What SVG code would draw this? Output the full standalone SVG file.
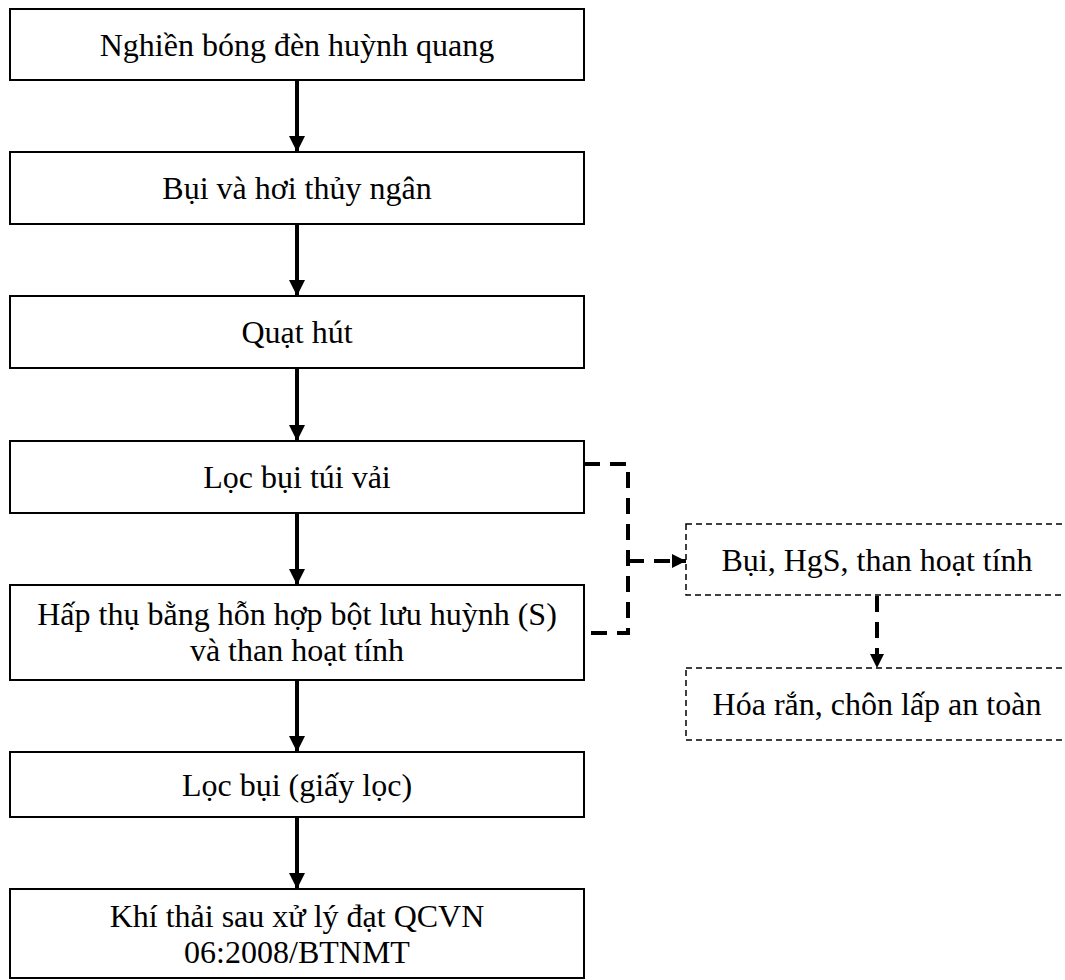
<svg xmlns="http://www.w3.org/2000/svg" width="1065" height="980" viewBox="0 0 1065 980">
<style>
.box{fill:#fff;stroke:#000;stroke-width:2}
.dbox{fill:#fff;stroke:#000;stroke-width:1.5;stroke-dasharray:6 4}
.t{font-family:"Liberation Serif","Times New Roman",serif;font-size:32px;fill:#000;text-anchor:middle}
.arr{stroke:#000;stroke-width:4;fill:none}
.darr{stroke:#000;stroke-width:4;fill:none;stroke-dasharray:16 10}
</style>
<defs>
<marker id="ah" markerUnits="userSpaceOnUse" markerWidth="16" markerHeight="16" viewBox="0 0 16 16" refX="16" refY="8" orient="auto">
<path d="M0,0 L16,8 L0,16 Z" fill="#000"/>
</marker>
<marker id="ahs" markerUnits="userSpaceOnUse" markerWidth="14" markerHeight="14" viewBox="0 0 14 14" refX="14" refY="7" orient="auto">
<path d="M0,0 L14,7 L0,14 Z" fill="#000"/>
</marker>
</defs>
<g id="connectors">
<line class="arr" x1="297" y1="80" x2="297" y2="152" marker-end="url(#ah)"/>
<line class="arr" x1="297" y1="224" x2="297" y2="296" marker-end="url(#ah)"/>
<line class="arr" x1="297" y1="368" x2="297" y2="441" marker-end="url(#ah)"/>
<line class="arr" x1="297" y1="513" x2="297" y2="585" marker-end="url(#ah)"/>
<line class="arr" x1="297" y1="680" x2="297" y2="752" marker-end="url(#ah)"/>
<line class="arr" x1="297" y1="817" x2="297" y2="889" marker-end="url(#ah)"/>
<path class="darr" d="M584,464 H628 V633 H584"/>
<line class="darr" x1="628" y1="561" x2="686" y2="561" stroke-dasharray="16 14" marker-end="url(#ahs)"/>
<line class="darr" x1="877" y1="596" x2="877" y2="668" marker-end="url(#ahs)"/>
</g>
<g id="n1"><rect class="box" x="10" y="9" width="574" height="71"/><text class="t" x="297" y="56">Nghiền bóng đèn huỳnh quang</text></g>
<g id="n2"><rect class="box" x="10" y="152" width="574" height="72"/><text class="t" x="297" y="199">Bụi và hơi thủy ngân</text></g>
<g id="n3"><rect class="box" x="10" y="296" width="574" height="72"/><text class="t" x="297" y="343">Quạt hút</text></g>
<g id="n4"><rect class="box" x="10" y="441" width="574" height="72"/><text class="t" x="297" y="488">Lọc bụi túi vải</text></g>
<g id="n5"><rect class="box" x="10" y="585" width="574" height="95"/><text class="t" x="297" y="625">Hấp thụ bằng hỗn hợp bột lưu huỳnh (S)</text><text class="t" x="297" y="661">và than hoạt tính</text></g>
<g id="n6"><rect class="box" x="10" y="752" width="574" height="65"/><text class="t" x="297" y="796">Lọc bụi (giấy lọc)</text></g>
<g id="n7"><rect class="box" x="10" y="889" width="574" height="89"/><text class="t" x="297" y="927">Khí thải sau xử lý đạt QCVN</text><text class="t" x="297" y="963">06:2008/BTNMT</text></g>
<g id="n8"><rect class="dbox" x="686" y="524" width="382" height="71"/><text class="t" x="877" y="571">Bụi, HgS, than hoạt tính</text></g>
<g id="n9"><rect class="dbox" x="686" y="668" width="382" height="72"/><text class="t" x="877" y="715">Hóa rắn, chôn lấp an toàn</text></g>
</svg>
